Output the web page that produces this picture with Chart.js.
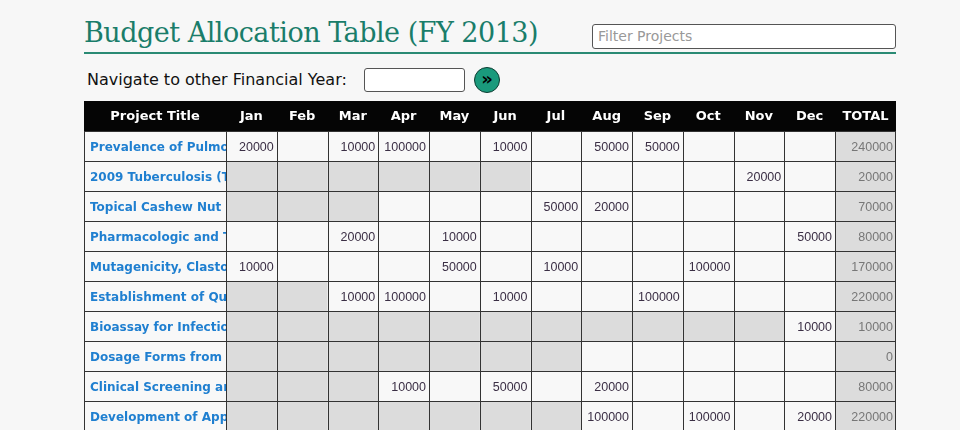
<!DOCTYPE html>
<html><head><meta charset="utf-8">
<script src="https://cdn.jsdelivr.net/npm/chart.js@4.4.0/dist/chart.umd.min.js"></script>
<style>
html,body{margin:0;padding:0;background:#f7f7f7;width:960px;height:430px;overflow:hidden;font-family:"DejaVu Sans",sans-serif}
#title{position:absolute;left:84px;top:17px;font-family:"DejaVu Serif",serif;font-size:27px;color:#1a7d6a;letter-spacing:-0.5px}
#rule{position:absolute;left:84px;top:52px;width:812px;height:2px;background:#2a8a74}
#filter{position:absolute;left:592px;top:24px;border:1px solid #555;border-radius:3px;background:#fff;font-size:14px;color:#999;line-height:22px;padding-left:5px;box-sizing:border-box;width:304px;height:25px}
#nav{position:absolute;left:87px;top:70px;font-size:16px;color:#111}
#navbox{position:absolute;left:364px;top:68px;width:101px;height:24px;border:1px solid #555;border-radius:3px;background:#fff;box-sizing:border-box}
#btn{position:absolute;left:474px;top:67px;width:26px;height:26px;border-radius:50%;background:#1a9a7c;border:1px solid #0c3d32;box-sizing:border-box;color:#000;font-weight:bold;font-size:18px;line-height:22px;text-align:center}
#wrap{position:absolute;left:84px;top:101px;width:812px;height:330px}
</style></head><body>
<div id="title">Budget Allocation Table (FY 2013)</div>
<div id="rule"></div>
<div id="filter">Filter Projects</div>
<div id="nav">Navigate to other Financial Year:</div>
<div id="navbox"></div>
<div id="btn">»</div>
<div id="wrap"><canvas id="c" width="812" height="330"></canvas></div>
<script>
const months=["Jan","Feb","Mar","Apr","May","Jun","Jul","Aug","Sep","Oct","Nov","Dec"];
const projects=["Prevalence of Pulmonary Tuberculosis","2009 Tuberculosis (TB) Survey","Topical Cashew Nut Extract","Pharmacologic and Toxicologic Study","Mutagenicity, Clastogenicity Assay","Establishment of Quality Standards","Bioassay for Infectious Diseases","Dosage Forms from Medicinal Plants","Clinical Screening and Evaluation","Development of Appropriate Technology"];
const r1=[20000,null,10000,100000,null,10000,null,50000,50000,null,null,null];
const r2=[null,null,null,null,null,null,null,null,null,null,20000,null];
const r3=[null,null,null,null,null,null,50000,20000,null,null,null,null];
const r4=[null,null,20000,null,10000,null,null,null,null,null,null,50000];
const r5=[10000,null,null,null,50000,null,10000,null,null,100000,null,null];
const r6=[null,null,10000,100000,null,10000,null,null,100000,null,null,null];
const r7=[null,null,null,null,null,null,null,null,null,null,null,10000];
const r8=[null,null,null,null,null,null,null,null,null,null,null,null];
const r9=[null,null,null,10000,null,50000,null,20000,null,null,null,null];
const r10=[null,null,null,null,null,null,null,100000,null,100000,null,20000];
const values=[r1,r2,r3,r4,r5,r6,r7,r8,r9,r10];
const inactiveMonths=[0,6,3,0,0,2,11,7,3,7];
const totals=[240000,20000,70000,80000,170000,220000,10000,0,80000,220000];

const pts=[];
values.forEach((row,ri)=>row.forEach((v,mi)=>pts.push({x:months[mi],y:projects[ri],v:v})));

const TITLE_W=142, TOTAL_W=61, HEAD_H=30;
const tablePlugin={id:'table',beforeDatasetsDraw(chart){
  const ctx=chart.ctx,xs=chart.scales.x,ys=chart.scales.y;
  const cw=xs.getPixelForValue(1)-xs.getPixelForValue(0);
  const rh=ys.getPixelForValue(1)-ys.getPixelForValue(0);
  const W=chart.width;
  ctx.save();
  ctx.fillStyle='#050505';ctx.fillRect(0,0,W,HEAD_H);
  ctx.fillStyle='#fff';ctx.font='bold 13px "DejaVu Sans"';ctx.textAlign='center';ctx.textBaseline='middle';
  ctx.fillText('Project Title',TITLE_W/2,HEAD_H/2+1);
  months.forEach((m,i)=>ctx.fillText(m,xs.getPixelForValue(i),HEAD_H/2+1));
  ctx.fillText('TOTAL',W-TOTAL_W/2,HEAD_H/2+1);
  projects.forEach((p,ri)=>{
    const yc=ys.getPixelForValue(ri),y0=yc-rh/2;
    ctx.fillStyle='#f8f8f8';ctx.fillRect(0,y0,W,rh);
    months.forEach((m,mi)=>{
      const x0=xs.getPixelForValue(mi)-cw/2;
      if(mi<inactiveMonths[ri]){ctx.fillStyle='#dcdcdc';ctx.fillRect(x0,y0,cw,rh);}
    });
    ctx.fillStyle='#dcdcdc';ctx.fillRect(W-TOTAL_W,y0,TOTAL_W,rh);
    ctx.save();ctx.beginPath();ctx.rect(0,y0,TITLE_W,rh);ctx.clip();
    ctx.fillStyle='#1f7fd0';ctx.font='bold 12px "DejaVu Sans"';ctx.textAlign='left';
    ctx.fillText(p,6,yc+2);ctx.restore();
    ctx.fillStyle='#3b2f45';ctx.font='12.5px "Liberation Sans"';ctx.textAlign='right';
    values[ri].forEach((v,mi)=>{if(v!==null)ctx.fillText(String(v),xs.getPixelForValue(mi)+cw/2-3,yc+2);});
    ctx.fillStyle='#777';ctx.fillText(String(totals[ri]),W-3,yc+2);
  });
  ctx.strokeStyle='#333';ctx.lineWidth=1;ctx.beginPath();
  for(let ri=0;ri<=projects.length;ri++){const y=Math.round(HEAD_H+ri*rh)+0.5;ctx.moveTo(0,y);ctx.lineTo(W,y);}
  const vx=[0.5,W-0.5,TITLE_W+0.5,W-TOTAL_W+0.5];
  for(let mi=1;mi<12;mi++)vx.push(Math.round(xs.getPixelForValue(mi)-cw/2)+0.5);
  vx.forEach(x=>{ctx.moveTo(x,HEAD_H);ctx.lineTo(x,chart.height);});
  ctx.stroke();
  ctx.restore();
}};
new Chart(document.getElementById('c'),{
  type:'scatter',
  data:{datasets:[{data:pts,pointRadius:0,pointHoverRadius:0}]},
  options:{responsive:false,animation:false,
    layout:{padding:{left:TITLE_W,right:TOTAL_W,top:HEAD_H,bottom:0}},
    plugins:{legend:{display:false},tooltip:{enabled:false}},
    scales:{x:{type:'category',labels:months,offset:true,display:false},
            y:{type:'category',labels:projects,offset:true,display:false}}},
  plugins:[tablePlugin]});
</script></body></html>
